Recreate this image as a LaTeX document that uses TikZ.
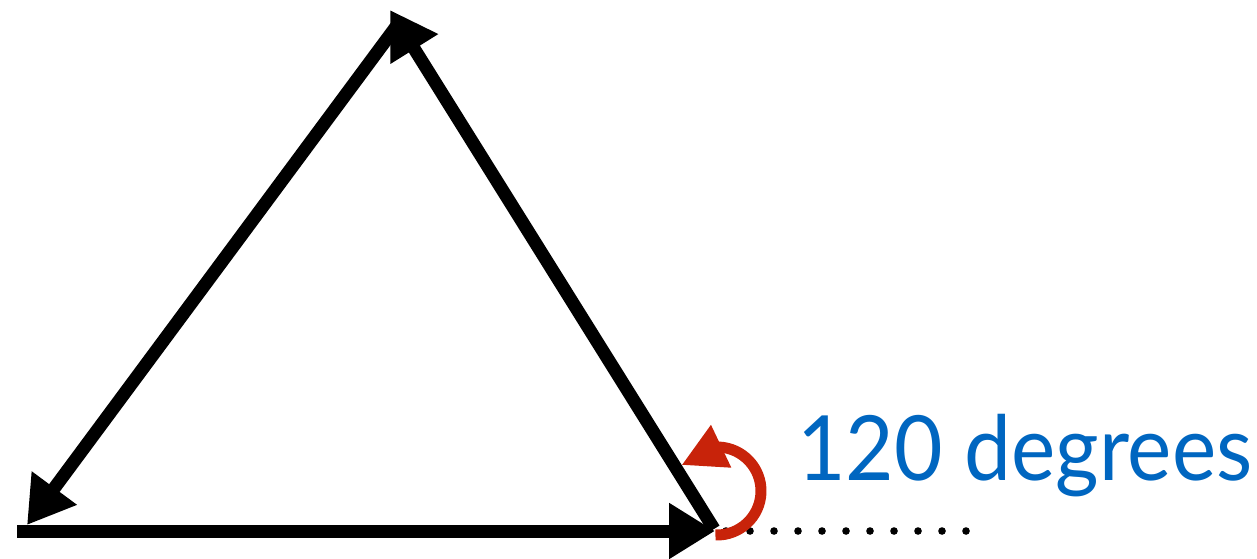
\documentclass[tikz,border=0pt]{standalone}
\usepackage{fontspec}
\usepackage{tikz}
\usetikzlibrary{arrows.meta,bending}
\newfontfamily\lblfont{Lato}
\definecolor{angred}{RGB}{200,35,10}
\definecolor{angblue}{RGB}{0,102,192}
\tikzset{
  side/.style={-{Triangle[length=23pt,width=26.5pt]}, draw=black, line width=6.5pt},
  turn/.style={-{Triangle[length=22pt,width=22pt,flex]}, draw=angred, line width=5.5pt},
  ext/.style={draw=black, line width=3.8pt, line cap=round, dash pattern=on 0pt off 12pt},
  lbl/.style={font=\lblfont\fontsize{45}{50}\selectfont, text=angblue, inner sep=0pt, xscale=0.93}
}
\begin{document}
\begin{tikzpicture}[x=0.5pt,y=0.5pt]
  \useasboundingbox (0,0) rectangle (1257,558);
  % corners of the triangle
  \coordinate (bl) at (17,27);
  \coordinate (br) at (715,27);
  \coordinate (brs) at (714,29);
  \coordinate (tip) at (390,548);
  \coordinate (tops) at (398,534);
  \coordinate (bltip) at (27,33);
  \coordinate (ctr) at (717,67);
  \coordinate (dotsa) at (726,27);
  \coordinate (dotsb) at (967,27);
  % the three sides
  \draw[side] (bl) -- (br);
  \draw[side] (brs) -- (tip);
  \draw[side] (tops) -- (bltip);
  % extension of the base
  \draw[ext] (dotsa) -- (dotsb);
  % exterior angle
  \draw[turn] ([shift={(-92:22pt)}]ctr) arc[start angle=-92, end angle=144, radius=22pt];
  \node[lbl, anchor=base west] (deg) at (797,78) {120 degrees};
\end{tikzpicture}
\end{document}
